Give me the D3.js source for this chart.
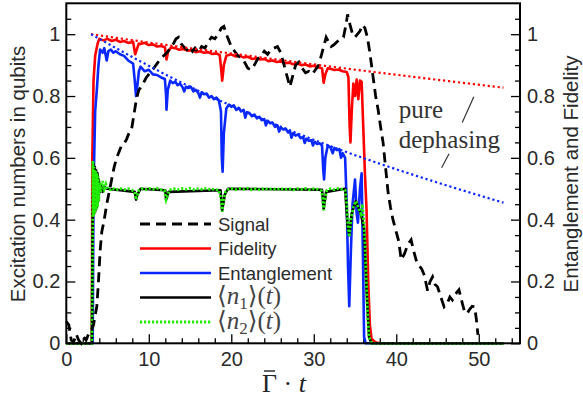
<!DOCTYPE html>
<html>
<head>
<meta charset="utf-8">
<script src="https://cdn.jsdelivr.net/npm/d3@7"></script>
<style>
  body { margin: 0; background: #fff; }
  svg { display: block; }
</style>
</head>
<body>
<div id="chart"></div>
<script>
// tick labels
var xTicks = [0, 10, 20, 30, 40, 50];
var xMinor = [2, 4, 6, 8, 12, 14, 16, 18, 22, 24, 26, 28, 32, 34, 36, 38, 42, 44, 46, 48, 52, 54];
var yTicks = [0, 0.2, 0.4, 0.6, 0.8, 1];
var yMinor = [0.05, 0.1, 0.15, 0.25, 0.3, 0.35, 0.45, 0.5, 0.55, 0.65, 0.7, 0.75, 0.85, 0.9, 0.95, 1.05];

// series [t, value]
var signal = [[0,0.07],[0.3,0.06],[0.6,0.01],[0.9,0.005],[1.2,0.03],[1.5,0.01],[1.8,0.0],[2.1,0.02],[2.4,0.01],[2.7,0.03],[3.0,0.04],[3.3,0.06],[3.5,0.09],[3.7,0.12],[3.9,0.2],[4.1,0.3],[4.3,0.36],[4.6,0.4],[4.9,0.45],[5.2,0.49],[5.5,0.53],[5.8,0.57],[6.1,0.6],[6.4,0.62],[6.7,0.64],[7.0,0.645],[7.3,0.66],[7.6,0.68],[7.9,0.69],[8.2,0.74],[8.5,0.79],[8.8,0.82],[9.1,0.83],[9.4,0.845],[9.7,0.86],[10.0,0.87],[10.3,0.88],[10.6,0.89],[11.0,0.905],[11.4,0.92],[11.8,0.93],[12.2,0.94],[12.6,0.955],[13.0,0.97],[13.3,0.985],[13.6,0.99],[13.9,0.97],[14.2,0.96],[14.6,0.95],[15.0,0.96],[15.3,0.945],[15.6,0.955],[16.0,0.94],[16.4,0.96],[16.8,0.955],[17.2,0.975],[17.6,0.99],[18.0,0.985],[18.4,1.0],[18.8,1.02],[19.1,1.025],[19.4,1.0],[19.7,0.98],[20.0,0.96],[20.4,0.945],[20.8,0.93],[21.2,0.925],[21.6,0.91],[22.0,0.89],[22.4,0.885],[22.8,0.9],[23.2,0.92],[23.6,0.93],[24.0,0.945],[24.4,0.935],[24.8,0.95],[25.2,0.955],[25.6,0.96],[26.0,0.94],[26.4,0.9],[26.8,0.86],[27.1,0.83],[27.4,0.86],[27.8,0.9],[28.2,0.91],[28.6,0.89],[29.0,0.875],[29.4,0.88],[29.8,0.87],[30.2,0.885],[30.6,0.9],[30.9,0.93],[31.2,0.96],[31.5,0.99],[31.8,0.975],[32.1,0.96],[32.4,0.965],[32.8,0.975],[33.2,0.985],[33.6,0.99],[33.9,1.03],[34.1,1.064],[34.4,1.03],[34.7,1.0],[35.0,0.99],[35.3,1.0],[35.6,1.01],[35.9,1.03],[36.2,1.02],[36.5,0.99],[36.8,0.94],[37.2,0.86],[37.5,0.8],[37.8,0.756],[38.1,0.7],[38.4,0.65],[38.7,0.57],[39.0,0.49],[39.3,0.44],[39.6,0.4],[40.0,0.36],[40.3,0.33],[40.6,0.27],[41.0,0.29],[41.4,0.32],[41.8,0.335],[42.1,0.3],[42.5,0.26],[42.8,0.25],[43.1,0.24],[43.4,0.22],[43.8,0.17],[44.1,0.2],[44.4,0.215],[44.7,0.19],[45.0,0.183],[45.4,0.15],[45.8,0.118],[46.2,0.13],[46.5,0.15],[46.8,0.14],[47.2,0.16],[47.6,0.173],[48.0,0.13],[48.3,0.1],[48.6,0.097],[48.9,0.11],[49.2,0.12],[49.5,0.118],[49.7,0.08],[49.9,0.027]];

var fidelity = [[0,0],[3.1,0],[3.15,0.59],[3.3,0.85],[3.5,0.93],[3.8,0.97],[4.0,0.985],[4.5,0.98],[5,0.985],[5.5,0.978],[6,0.982],[6.5,0.975],[7,0.978],[7.5,0.972],[8.1,0.975],[8.35,0.935],[8.6,0.955],[8.8,0.97],[9,0.968],[9.5,0.972],[10,0.965],[10.5,0.967],[11,0.96],[11.5,0.962],[11.95,0.958],[12.15,0.918],[12.35,0.945],[12.7,0.957],[13.2,0.955],[13.7,0.95],[14.2,0.952],[14.7,0.947],[15.2,0.948],[15.7,0.942],[16.2,0.945],[16.7,0.94],[17.2,0.942],[17.7,0.936],[18.2,0.938],[18.6,0.932],[18.8,0.88],[18.9,0.85],[19.1,0.9],[19.4,0.93],[20,0.935],[20.5,0.928],[21,0.93],[21.5,0.925],[22,0.927],[22.5,0.92],[23,0.922],[23.5,0.918],[24,0.92],[24.5,0.913],[25,0.915],[25.5,0.91],[26,0.912],[26.5,0.906],[27,0.908],[27.5,0.903],[28,0.905],[28.5,0.9],[29,0.902],[29.5,0.896],[30,0.898],[30.5,0.893],[31.0,0.89],[31.2,0.843],[31.4,0.87],[31.7,0.89],[32,0.888],[32.5,0.884],[33,0.886],[33.5,0.88],[34,0.878],[34.2,0.86],[34.35,0.7],[34.45,0.65],[34.6,0.75],[34.8,0.84],[35.0,0.8],[35.2,0.853],[35.4,0.79],[35.6,0.85],[35.8,0.846],[36.0,0.7],[36.2,0.55],[36.4,0.43],[36.6,0.2],[36.8,0.06],[37,0.015],[37.5,0.003],[38,0],[53,0]];

var entanglement = [[0,0],[3.2,0],[3.3,0.5],[3.5,0.75],[3.7,0.82],[3.9,0.9],[4.1,0.95],[4.4,0.94],[4.6,0.955],[4.9,0.915],[5.1,0.945],[5.4,0.95],[5.7,0.94],[6,0.945],[6.5,0.935],[7,0.93],[7.5,0.915],[8.1,0.905],[8.3,0.85],[8.45,0.8],[8.6,0.83],[8.8,0.88],[9,0.895],[9.5,0.88],[10,0.885],[10.5,0.87],[11,0.868],[11.5,0.86],[11.95,0.855],[12.1,0.8],[12.15,0.756],[12.3,0.82],[12.6,0.85],[12.9,0.842],[13.2,0.847],[13.5,0.835],[13.8,0.84],[14.1,0.828],[14.3,0.815],[14.5,0.83],[14.8,0.826],[15.1,0.83],[15.4,0.815],[15.7,0.82],[16.0,0.81],[16.2,0.795],[16.4,0.812],[16.7,0.806],[17.0,0.808],[17.3,0.795],[17.6,0.8],[17.9,0.79],[18.2,0.795],[18.5,0.785],[18.75,0.75],[18.85,0.6],[18.95,0.555],[19.1,0.68],[19.4,0.76],[19.7,0.772],[20.0,0.765],[20.3,0.77],[20.6,0.755],[20.9,0.762],[21.2,0.75],[21.5,0.755],[21.7,0.73],[21.9,0.748],[22.2,0.745],[22.5,0.735],[22.8,0.74],[23.1,0.728],[23.4,0.733],[23.7,0.722],[24.0,0.725],[24.2,0.705],[24.4,0.72],[24.7,0.712],[25.0,0.714],[25.3,0.7],[25.6,0.705],[25.8,0.685],[26.0,0.698],[26.3,0.692],[26.6,0.694],[26.9,0.682],[27.1,0.688],[27.3,0.665],[27.5,0.68],[27.8,0.672],[28.1,0.676],[28.4,0.664],[28.7,0.668],[28.9,0.648],[29.1,0.662],[29.4,0.655],[29.7,0.657],[29.9,0.64],[30.1,0.652],[30.4,0.645],[30.7,0.647],[31.0,0.64],[31.15,0.56],[31.25,0.53],[31.4,0.6],[31.7,0.64],[32.0,0.635],[32.3,0.615],[32.5,0.632],[32.8,0.625],[33.1,0.628],[33.3,0.6],[33.5,0.615],[33.8,0.6],[34.0,0.45],[34.15,0.25],[34.3,0.12],[34.5,0.3],[34.7,0.45],[35,0.53],[35.2,0.42],[35.35,0.39],[35.6,0.5],[35.8,0.55],[35.95,0.3],[36.1,0.02],[36.3,0],[53,0]];

var n1 = [[0,0],[3.1,0],[3.18,0.35],[3.22,0.42],[3.3,0.58],[3.38,0.42],[3.46,0.57],[3.54,0.43],[3.62,0.56],[3.7,0.44],[3.78,0.55],[3.86,0.46],[3.94,0.53],[4.05,0.49],[4.2,0.51],[4.4,0.49],[4.6,0.505],[5,0.5],[8.3,0.49],[8.45,0.465],[8.6,0.48],[9,0.5],[12,0.495],[12.1,0.465],[12.4,0.49],[18.7,0.495],[18.9,0.43],[19.2,0.48],[19.6,0.5],[31,0.497],[31.2,0.435],[31.5,0.49],[33.8,0.5],[34.1,0.38],[34.3,0.35],[34.6,0.42],[35.1,0.46],[35.7,0.42],[36.1,0.37],[36.4,0.17],[36.7,0.02],[37,0],[53,0]];

var n2 = [[0,0],[3.1,0],[3.18,0.3],[3.22,0.59],[3.3,0.41],[3.38,0.57],[3.46,0.42],[3.54,0.56],[3.62,0.43],[3.7,0.55],[3.78,0.44],[3.86,0.54],[3.94,0.46],[4.05,0.52],[4.2,0.49],[4.4,0.525],[4.6,0.5],[4.8,0.515],[5.0,0.5],[5.3,0.497],[5.6,0.502],[6.0,0.496],[6.5,0.501],[7.0,0.497],[7.5,0.5],[8.0,0.495],[8.3,0.49],[8.45,0.465],[8.6,0.475],[8.8,0.495],[9.2,0.5],[9.6,0.497],[10.0,0.502],[10.5,0.498],[11.0,0.501],[11.5,0.497],[11.9,0.495],[12.1,0.465],[12.3,0.48],[12.5,0.496],[13.0,0.5],[13.5,0.497],[14.0,0.501],[14.5,0.498],[15.0,0.502],[15.5,0.497],[16.0,0.5],[16.5,0.498],[17.0,0.501],[17.5,0.497],[18.0,0.499],[18.5,0.495],[18.75,0.47],[18.9,0.425],[19.05,0.46],[19.3,0.49],[19.6,0.498],[20.0,0.501],[20.5,0.497],[21.0,0.5],[21.5,0.498],[22.0,0.502],[22.5,0.497],[23.0,0.5],[23.5,0.496],[24.0,0.501],[24.5,0.498],[25.0,0.5],[25.5,0.497],[26.0,0.501],[26.5,0.498],[27.0,0.5],[27.5,0.496],[28.0,0.5],[28.5,0.498],[29.0,0.501],[29.5,0.497],[30.0,0.5],[30.5,0.498],[30.95,0.493],[31.1,0.46],[31.2,0.43],[31.35,0.47],[31.6,0.495],[32.0,0.5],[32.5,0.497],[33.0,0.501],[33.5,0.498],[33.8,0.495],[34.0,0.45],[34.15,0.38],[34.3,0.345],[34.5,0.4],[34.8,0.44],[35.1,0.46],[35.4,0.44],[35.7,0.42],[35.9,0.45],[36.1,0.38],[36.25,0.3],[36.4,0.18],[36.55,0.08],[36.7,0.02],[37.0,0],[53,0]];

// pure dephasing guides
var dephFid = [[3,1],[13,0.962],[23,0.927],[33,0.892],[43,0.859],[53,0.827]];
var dephEnt = [[3,1],[9,0.912],[15,0.83],[21,0.757],[27,0.69],[33,0.628],[39,0.572],[45,0.52],[53,0.455]];

var legendNames = ["Signal", "Fidelity", "Entanglement", "n1", "n2"];

var W = 583, H = 403;
var mLeft = 66.3, mRight = 520, mTop = 3.3, mBottom = 343.3;
var sans = "'Liberation Sans', Arial, Helvetica, sans-serif";
var serif = "'Liberation Serif', 'DejaVu Serif', 'Times New Roman', serif";

var svg = d3.select("#chart").append("svg")
  .attr("width", W)
  .attr("height", H);

svg.append("rect").attr("width", W).attr("height", H).attr("fill", "#fff");

var x = d3.scaleLinear().domain([0, 55]).range([mLeft, mRight]);
var y = d3.scaleLinear().domain([0, 1.1]).range([mBottom, mTop]);

/* axes, ticks inside */
function styleAxis(g, size) {
  g.select(".domain").remove();
  g.selectAll("line").attr("stroke", "#000").attr("stroke-width", 1.3);
  g.selectAll("text").attr("fill", "#2a2a2a").style("font-family", sans).style("font-size", size + "px");
}

svg.append("g").attr("transform", "translate(0," + mBottom + ")")
  .call(d3.axisBottom(x).tickValues(xTicks).tickSize(-9).tickPadding(9).tickFormat(d3.format("d")))
  .call(styleAxis, 20);
svg.append("g").attr("transform", "translate(0," + mBottom + ")")
  .call(d3.axisBottom(x).tickValues(xMinor).tickSize(-5).tickFormat(""))
  .call(styleAxis, 20);

svg.append("g").attr("transform", "translate(" + mLeft + ",0)")
  .call(d3.axisLeft(y).tickValues(yTicks).tickSize(-9).tickPadding(6).tickFormat(d3.format("")))
  .call(styleAxis, 20);
svg.append("g").attr("transform", "translate(" + mLeft + ",0)")
  .call(d3.axisLeft(y).tickValues(yMinor).tickSize(-5).tickFormat(""))
  .call(styleAxis, 20);

svg.append("g").attr("transform", "translate(" + mRight + ",0)")
  .call(d3.axisRight(y).tickValues(yTicks).tickSize(-9).tickPadding(7).tickFormat(d3.format("")))
  .call(styleAxis, 20);
svg.append("g").attr("transform", "translate(" + mRight + ",0)")
  .call(d3.axisRight(y).tickValues(yMinor).tickSize(-5).tickFormat(""))
  .call(styleAxis, 20);

/* curves */
var line = d3.line()
  .x(function(d) { return x(d[0]); })
  .y(function(d) { return y(d[1]); });
var smooth = d3.line()
  .x(function(d) { return x(d[0]); })
  .y(function(d) { return y(d[1]); })
  .curve(d3.curveMonotoneX);

var plot = svg.append("g");

plot.append("path").datum(fidelity)
  .attr("d", line).attr("fill", "none")
  .attr("stroke", "#ff0000").attr("stroke-width", 2.6).attr("stroke-linejoin", "round");

plot.append("path").datum(entanglement)
  .attr("d", line).attr("fill", "none")
  .attr("stroke", "#0a28ff").attr("stroke-width", 2.6).attr("stroke-linejoin", "round");

plot.append("path").datum(n1)
  .attr("d", line).attr("fill", "none")
  .attr("stroke", "#000").attr("stroke-width", 2.6).attr("stroke-linejoin", "round");

plot.append("path").datum(n2)
  .attr("d", line).attr("fill", "none")
  .attr("stroke", "#22ee00").attr("stroke-width", 2.8)
  .attr("stroke-dasharray", "2.2,1.8");

plot.append("path").datum(signal)
  .attr("d", line).attr("fill", "none")
  .attr("stroke", "#000").attr("stroke-width", 2.8)
  .attr("stroke-dasharray", "10,6");

plot.append("path").datum(dephFid)
  .attr("d", smooth).attr("fill", "none")
  .attr("stroke", "#ff0000").attr("stroke-width", 2.2)
  .attr("stroke-dasharray", "2.2,2.8");

plot.append("path").datum(dephEnt)
  .attr("d", smooth).attr("fill", "none")
  .attr("stroke", "#0a28ff").attr("stroke-width", 2.2)
  .attr("stroke-dasharray", "2.2,2.8");

/* frame */
svg.append("rect")
  .attr("x", mLeft).attr("y", mTop)
  .attr("width", mRight - mLeft).attr("height", mBottom - mTop)
  .attr("fill", "none").attr("stroke", "#000").attr("stroke-width", 2);

/* pure dephasing note */
svg.append("text").attr("x", x(40.3)).attr("y", y(0.73))
  .style("font-family", serif).style("font-size", "25px").attr("fill", "#333")
  .text("pure");
svg.append("text").attr("x", x(40.3)).attr("y", y(0.633))
  .style("font-family", serif).style("font-size", "25px").attr("fill", "#333")
  .text("dephasing");
svg.append("line")
  .attr("x1", x(49.4)).attr("y1", y(0.798)).attr("x2", x(48.0)).attr("y2", y(0.714))
  .attr("stroke", "#333").attr("stroke-width", 1.2);
svg.append("line")
  .attr("x1", x(46.4)).attr("y1", y(0.613)).attr("x2", x(45.5)).attr("y2", y(0.568))
  .attr("stroke", "#333").attr("stroke-width", 1.2);

/* legend */
var legStyles = [
  { color: "#000", dash: "10,6", w: 2.8 },
  { color: "#ff0000", dash: null, w: 2.6 },
  { color: "#0a28ff", dash: null, w: 2.6 },
  { color: "#000", dash: null, w: 2.6 },
  { color: "#22ee00", dash: "2.2,1.8", w: 2.8 }
];
var legY0 = 224, legStep = 24.5;
var leg = svg.append("g");
legendNames.forEach(function(name, i) {
  var ly = legY0 + i * legStep;
  var s = legStyles[i];
  leg.append("line")
    .attr("x1", 140).attr("x2", 211).attr("y1", ly).attr("y2", ly)
    .attr("stroke", s.color).attr("stroke-width", s.w)
    .attr("stroke-dasharray", s.dash);
  if (i < 3) {
    leg.append("text").attr("x", 218).attr("y", ly + 6.5)
      .style("font-family", sans).style("font-size", "18.5px").attr("fill", "#2a2a2a")
      .text(name);
  } else {
    var t = leg.append("text").attr("x", 217).attr("y", ly + 6.5)
      .style("font-family", serif).style("font-size", "25px").attr("fill", "#444");
    t.append("tspan").text("\u27E8");
    t.append("tspan").style("font-style", "italic").text("n");
    t.append("tspan").attr("dy", 5).style("font-size", "17px").text(i === 3 ? "1" : "2");
    t.append("tspan").attr("dy", -5).text("\u27E9(");
    t.append("tspan").style("font-style", "italic").text("t");
    t.append("tspan").text(")");
  }
});

/* axis titles */
svg.append("text")
  .attr("transform", "translate(25," + 174 + ") rotate(-90)")
  .attr("text-anchor", "middle")
  .style("font-family", sans).style("font-size", "20.5px").attr("fill", "#2a2a2a")
  .text("Excitation numbers in qubits");

svg.append("text")
  .attr("transform", "translate(578," + 174 + ") rotate(-90)")
  .attr("text-anchor", "middle")
  .style("font-family", sans).style("font-size", "20.5px").attr("fill", "#2a2a2a")
  .text("Entanglement and Fidelity");

/* x title: Gamma-bar dot t */
var xl = svg.append("text")
  .attr("x", 284).attr("y", 392)
  .attr("text-anchor", "middle")
  .style("font-family", serif).style("font-size", "26px").attr("fill", "#222");
var gam = xl.append("tspan").text("\u0393");
xl.append("tspan").text(" \u00B7 ");
xl.append("tspan").style("font-style", "italic").text("t");
var gb = gam.node().getExtentOfChar(0);
svg.append("line")
  .attr("x1", gb.x + 2).attr("x2", gb.x + gb.width - 2)
  .attr("y1", gb.y + 2).attr("y2", gb.y + 2)
  .attr("stroke", "#222").attr("stroke-width", 1.4);
</script>
</body>
</html>
